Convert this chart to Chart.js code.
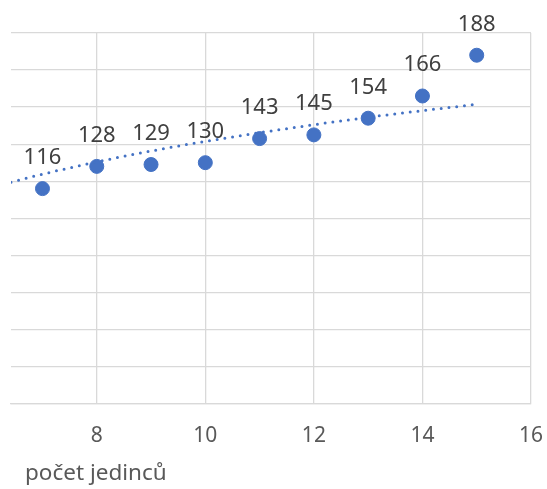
<!DOCTYPE html>
<html>
<head>
<meta charset="utf-8">
<script src="https://cdn.jsdelivr.net/npm/chart.js@4"></script>
<style>
  html, body { margin: 0; padding: 0; background: #fff; }
</style>
</head>
<body>
<canvas id="chart" width="547" height="489"></canvas>
<script>
// Počet jedinců vs. hodnota
const counts = [7, 8, 9, 10, 11, 12, 13, 14, 15];
const values = [116, 128, 129, 130, 143, 145, 154, 166, 188];

// dotted trend line (logarithmic), sampled along x
const trendX = [6.42, 7, 8, 9, 10, 11, 12, 13, 14, 15];
const trendY = [119.5, 123.8, 130.4, 136.3, 141.5, 146.2, 150.5, 154.5, 158.1, 161.5];

const xTicks = [8, 10, 12, 14, 16];
const xTitle = 'počet jedinců';

const BLUE = '#4472C4';
const GRID = '#d9d9d9';
const FONT = '"Noto Sans", "Open Sans", sans-serif';

// value labels above each point
const pointLabels = {
  id: 'pointLabels',
  afterDatasetsDraw(chart) {
    const ctx = chart.ctx;
    const meta = chart.getDatasetMeta(1);
    ctx.save();
    ctx.font = '22px ' + FONT;
    ctx.fillStyle = '#404040';
    ctx.textAlign = 'center';
    ctx.textBaseline = 'alphabetic';
    meta.data.forEach((pt, i) => {
      ctx.fillText(String(values[i]), pt.x, pt.y - 24.5);
    });
    ctx.restore();
  }
};

// axis title sits left-aligned under the tick labels
const axisTitle = {
  id: 'axisTitle',
  afterDraw(chart) {
    const ctx = chart.ctx;
    ctx.save();
    ctx.font = '22.5px ' + FONT;
    ctx.fillStyle = '#595959';
    ctx.textAlign = 'left';
    ctx.textBaseline = 'alphabetic';
    ctx.fillText(xTitle, chart.chartArea.left + 14, chart.height - 9);
    ctx.restore();
  }
};

new Chart(document.getElementById('chart'), {
  type: 'scatter',
  data: {
    datasets: [
      {
        type: 'line',
        data: trendX.map((x, i) => ({ x: x, y: trendY[i] })),
        borderColor: BLUE,
        borderWidth: 3,
        borderDash: [0, 7.8],
        borderCapStyle: 'round',
        cubicInterpolationMode: 'monotone',
        pointRadius: 0,
        fill: false
      },
      {
        data: counts.map((x, i) => ({ x: x, y: values[i] })),
        backgroundColor: BLUE,
        borderColor: BLUE,
        pointRadius: 7,
        pointHoverRadius: 7
      }
    ]
  },
  options: {
    responsive: false,
    animation: false,
    layout: { padding: { left: 11, top: 33, right: 16, bottom: 0 } },
    plugins: {
      legend: { display: false },
      tooltip: { enabled: false }
    },
    scales: {
      x: {
        type: 'linear',
        min: 6.42,
        max: 16,
        afterBuildTicks: (scale) => { scale.ticks = xTicks.map(v => ({ value: v })); },
        afterFit: (scale) => {
          scale.height = 85.5;
          scale.paddingLeft = 0;
          scale.paddingRight = 0;
        },
        ticks: {
          color: '#595959',
          font: { family: FONT, size: 21 },
          padding: 20
        },
        grid: { color: GRID, lineWidth: 1.3, drawTicks: false },
        border: { color: GRID, width: 1.3 }
      },
      y: {
        min: 0,
        max: 200,
        ticks: { stepSize: 20, display: false },
        grid: { color: GRID, lineWidth: 1.3, drawTicks: false },
        border: { display: false }
      }
    }
  },
  plugins: [pointLabels, axisTitle]
});
</script>
</body>
</html>
